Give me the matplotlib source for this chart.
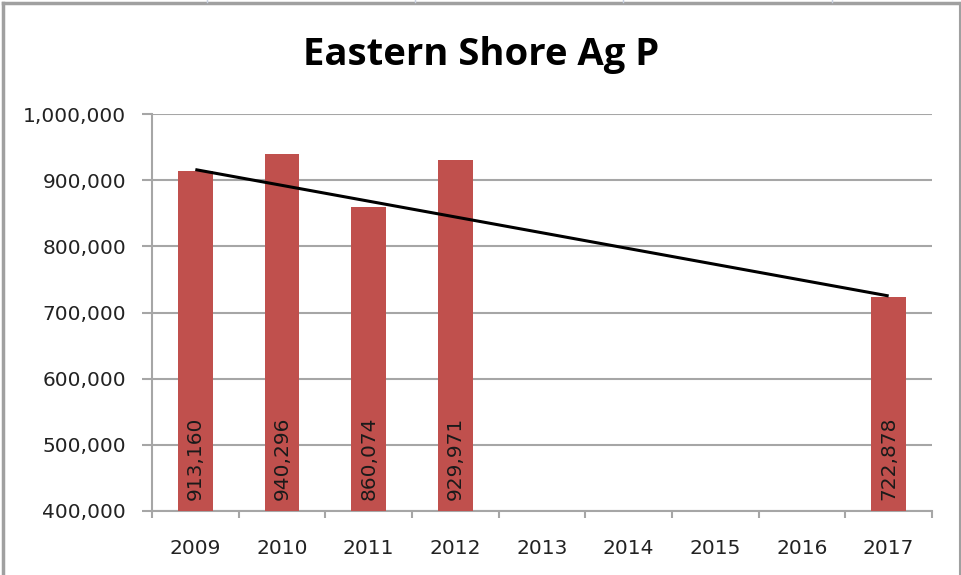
import matplotlib
matplotlib.use("Agg")
import matplotlib.pyplot as plt
from matplotlib.lines import Line2D
from matplotlib.ticker import FuncFormatter, FixedLocator, NullFormatter

years = ["2009", "2010", "2011", "2012", "2013", "2014", "2015", "2016", "2017"]
values = [913160, 940296, 860074, 929971, None, None, None, None, 722878]
trend_years = ["2009", "2017"]
trend_values = [916000, 725000]
title = "Eastern Shore Ag P"

W, H = 961, 575
fig = plt.figure(figsize=(W / 100, H / 100), dpi=100)
fig.patch.set_facecolor("white")

x0, x1, y0, y1 = 152, 932, 114, 511
ax = fig.add_axes([x0 / W, 1 - y1 / H, (x1 - x0) / W, (y1 - y0) / H])

grid_c = "#A6A6A6"
bar_c = "#C0504D"
txt_c = "#222222"
fs = 14.5

xs = list(range(len(years)))
bx = [x for x, v in zip(xs, values) if v is not None]
bv = [v for v in values if v is not None]
ax.bar(bx, bv, width=0.4, color=bar_c, zorder=3, bottom=0)

ax.set_ylim(400000, 1000000)
ax.set_xlim(-0.5, len(years) - 0.5)
ax.set_yticks(range(400000, 1000001, 100000))
ax.yaxis.set_major_formatter(FuncFormatter(lambda v, p: f"{int(v):,}"))
ax.yaxis.grid(True, color=grid_c, linewidth=1.5, zorder=0)

# category ticks at boundaries, labels centered
ax.xaxis.set_major_locator(FixedLocator([i - 0.5 for i in range(len(years) + 1)]))
ax.xaxis.set_major_formatter(NullFormatter())
ax.xaxis.set_minor_locator(FixedLocator(xs))
ax.set_xticklabels(years, minor=True)
ax.tick_params(axis="x", which="minor", length=0, pad=20, labelsize=fs, colors=txt_c)
ax.tick_params(axis="x", which="major", length=5, width=1.5, color=grid_c, direction="out")
ax.tick_params(axis="y", length=7.2, width=1.5, color=grid_c, pad=11.5, labelsize=fs, labelcolor=txt_c)

for s in ["top", "right"]:
    ax.spines[s].set_visible(False)
for s in ["left", "bottom"]:
    ax.spines[s].set_color(grid_c)
    ax.spines[s].set_linewidth(1.5)

# value labels rotated inside bars
for x, v in zip(bx, bv):
    ax.annotate(f"{v:,}", xy=(x, 400000), xytext=(0, 8), textcoords="offset points",
                rotation=90, ha="center", va="bottom", fontsize=fs, color="#1a1a1a",
                zorder=5)

# trend line
tx = [years.index(y) for y in trend_years]
ax.plot(tx, trend_values, color="black", linewidth=2.2, zorder=4, solid_capstyle="butt")

fig.text(481 / W, 1 - 65 / H, title, ha="center", va="baseline",
         fontsize=27.5, fontweight="bold", family="Open Sans")

# chart border and faint sheet lines
fig.add_artist(Line2D([2.5 / W, 2.5 / W], [0, 1 - 3 / H], transform=fig.transFigure, color="#A0A0A0", linewidth=2.5))
fig.add_artist(Line2D([2.5 / W, 960 / W], [1 - 3 / H, 1 - 3 / H], transform=fig.transFigure, color="#A0A0A0", linewidth=2.5))
fig.add_artist(Line2D([959.5 / W, 959.5 / W], [0, 1 - 3 / H], transform=fig.transFigure, color="#A0A0A0", linewidth=1.5))
for lx in [207, 415, 623, 832]:
    fig.add_artist(Line2D([lx / W, lx / W], [1 - 2 / H, 1], transform=fig.transFigure, color="#C8D0E0", linewidth=1))

fig.savefig("out.png", dpi=100)
